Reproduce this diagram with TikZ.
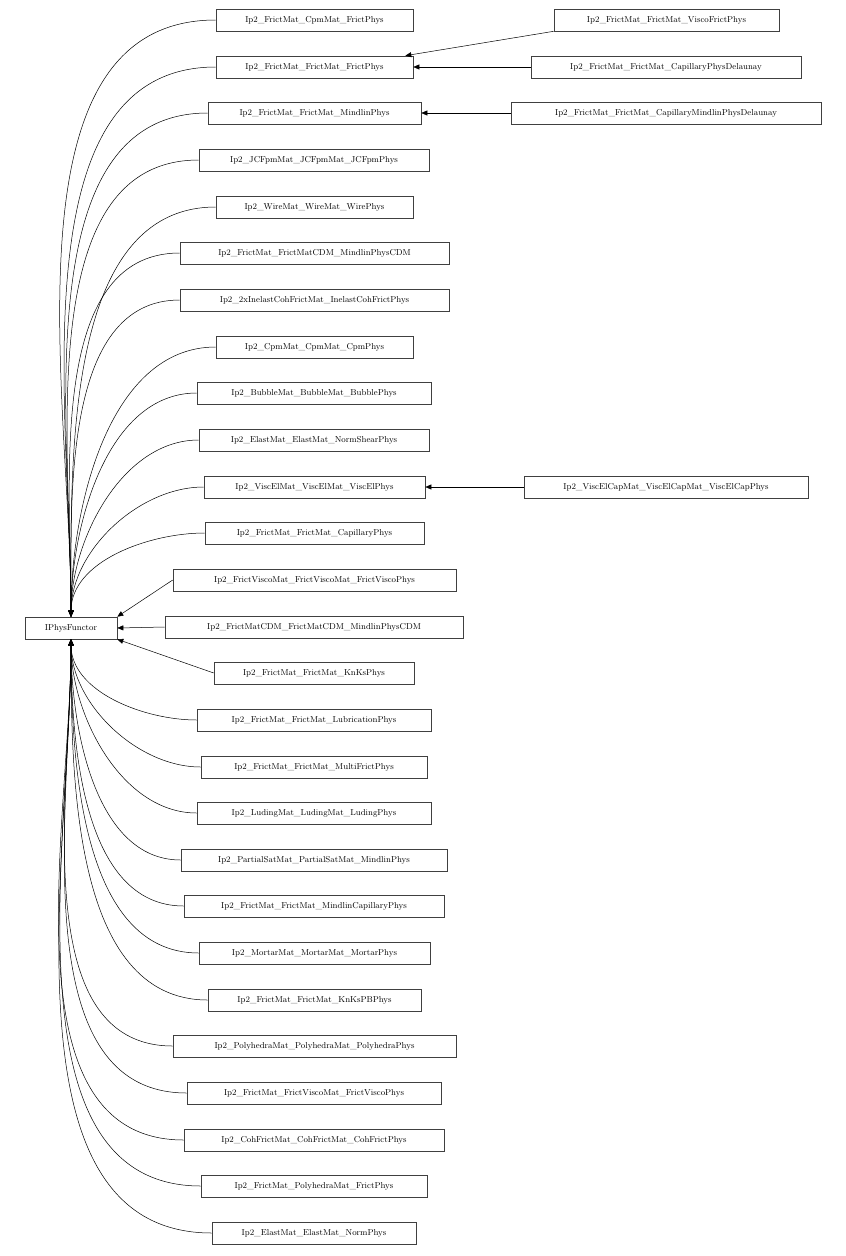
\documentclass[tikz,border=0pt]{standalone}
\usetikzlibrary{arrows.meta}
\begin{document}
\begin{tikzpicture}[x=1pt,y=1pt,
  box/.style={draw=black!75,line width=0.6pt,minimum height=22pt,inner sep=0pt,font=\fontsize{8.6}{10}\selectfont,fill=white},
  arr/.style={-{Triangle[length=6pt,width=5pt]},line width=0.5pt}]
\useasboundingbox (0,0) rectangle (846,-1256);
\node[box,minimum width=92pt] (ip) at (71,-628) {IPhysFunctor};
\foreach \i/\t/\y/\l/\r in {
 1/Ip2\_FrictMat\_CpmMat\_FrictPhys/20/216/413,
 2/Ip2\_FrictMat\_FrictMat\_FrictPhys/67/216/413,
 3/Ip2\_FrictMat\_FrictMat\_MindlinPhys/113/208/421,
 4/Ip2\_JCFpmMat\_JCFpmMat\_JCFpmPhys/160/199/429,
 5/Ip2\_WireMat\_WireMat\_WirePhys/207/216/413,
 6/Ip2\_FrictMat\_FrictMatCDM\_MindlinPhysCDM/253/180/449,
 7/Ip2\_2xInelastCohFrictMat\_InelastCohFrictPhys/300/180/449,
 8/Ip2\_CpmMat\_CpmMat\_CpmPhys/347/216/413,
 9/Ip2\_BubbleMat\_BubbleMat\_BubblePhys/393/197/431,
 10/Ip2\_ElastMat\_ElastMat\_NormShearPhys/440/199/429,
 11/Ip2\_ViscElMat\_ViscElMat\_ViscElPhys/487/204/425,
 12/Ip2\_FrictMat\_FrictMat\_CapillaryPhys/533/205/424,
 13/Ip2\_FrictViscoMat\_FrictViscoMat\_FrictViscoPhys/580/173/456,
 14/Ip2\_FrictMatCDM\_FrictMatCDM\_MindlinPhysCDM/627/165/463,
 15/Ip2\_FrictMat\_FrictMat\_KnKsPhys/673/214/414,
 16/Ip2\_FrictMat\_FrictMat\_LubricationPhys/720/197/431,
 17/Ip2\_FrictMat\_FrictMat\_MultiFrictPhys/767/201/427,
 18/Ip2\_LudingMat\_LudingMat\_LudingPhys/813/197/431,
 19/Ip2\_PartialSatMat\_PartialSatMat\_MindlinPhys/860/181/447,
 20/Ip2\_FrictMat\_FrictMat\_MindlinCapillaryPhys/906/184/444,
 21/Ip2\_MortarMat\_MortarMat\_MortarPhys/953/199/430,
 22/Ip2\_FrictMat\_FrictMat\_KnKsPBPhys/1000/208/421,
 23/Ip2\_PolyhedraMat\_PolyhedraMat\_PolyhedraPhys/1046/173/456,
 24/Ip2\_FrictMat\_FrictViscoMat\_FrictViscoPhys/1093/187/441,
 25/Ip2\_CohFrictMat\_CohFrictMat\_CohFrictPhys/1140/184/444,
 26/Ip2\_FrictMat\_PolyhedraMat\_FrictPhys/1186/201/427,
 27/Ip2\_ElastMat\_ElastMat\_NormPhys/1233/212/416}{
  \pgfmathsetmacro\cx{(\l+\r)/2}
  \pgfmathsetmacro\w{\r-\l}
  \node[box,minimum width=\w pt] (b\i) at (\cx,-\y) {\t};
}
\foreach \i in {1,...,12}{\draw[arr] (b\i.west) to[out=180,in=90,looseness=0.9] (ip.north);}
\foreach \i in {16,...,27}{\draw[arr] (b\i.west) to[out=180,in=-90,looseness=0.9] (ip.south);}
\draw[arr] (b13.west) -- (ip.north east);
\draw[arr] (b14.west) -- (ip.east);
\draw[arr] (b15.west) -- (ip.south east);
\node[box,minimum width=225pt] (r1) at (666.5,-20) {Ip2\_FrictMat\_FrictMat\_ViscoFrictPhys};
\node[box,minimum width=270pt] (r2) at (666,-67) {Ip2\_FrictMat\_FrictMat\_CapillaryPhysDelaunay};
\node[box,minimum width=310pt] (r3) at (666,-113) {Ip2\_FrictMat\_FrictMat\_CapillaryMindlinPhysDelaunay};
\node[box,minimum width=284pt] (r4) at (666,-487) {Ip2\_ViscElCapMat\_ViscElCapMat\_ViscElCapPhys};
\draw[arr] (r1.south west) -- ([xshift=-8pt]b2.north east);
\draw[arr] (r2.west) -- (b2.east);
\draw[arr] (r3.west) -- (b3.east);
\draw[arr] (r4.west) -- (b11.east);
\end{tikzpicture}
\end{document}
